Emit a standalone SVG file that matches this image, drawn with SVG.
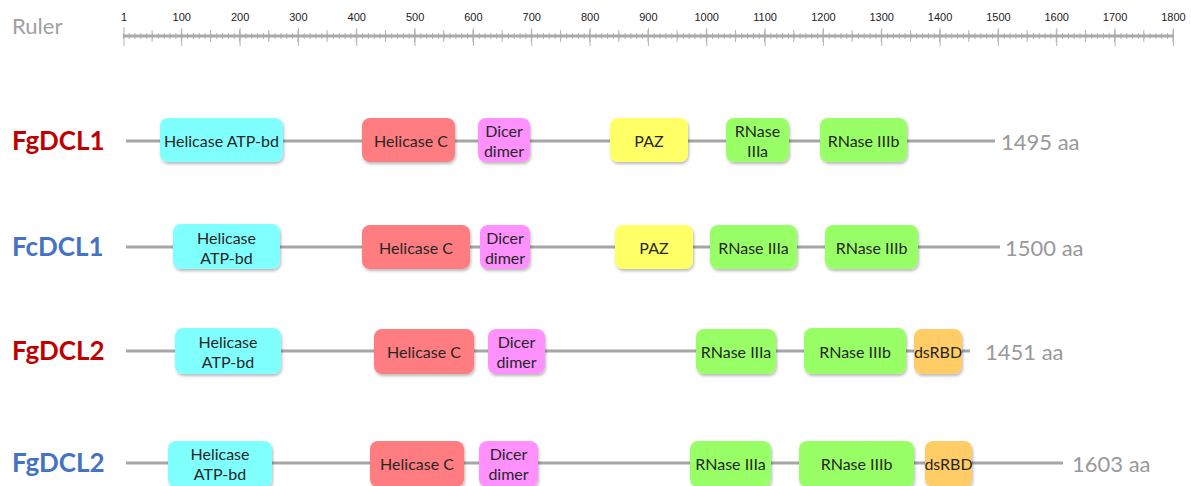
<svg xmlns="http://www.w3.org/2000/svg" width="1191" height="486" viewBox="0 0 1191 486">
<defs>
<filter id="sh" x="-20%" y="-20%" width="140%" height="150%">
<feDropShadow dx="1" dy="2" stdDeviation="1.8" flood-color="#000" flood-opacity="0.28"/>
</filter>
<style>
.bg{fill:#fff}
.box{filter:url(#sh)}
.cy{fill:#80ffff}.rd{fill:#ff7c80}.pk{fill:#ff91ff}.ye{fill:#ffff66}.gr{fill:#99ff66}.or{fill:#ffcc66}
.t{font-family:Lato,"Open Sans",sans-serif;font-size:16px;fill:#262626;text-anchor:middle;dominant-baseline:central}
.lab{font-family:Lato,"Open Sans",sans-serif;font-size:26px;font-weight:bold;dominant-baseline:central}
.red{fill:#c00000}.blue{fill:#4472c4}
.aa{font-family:Lato,"Open Sans",sans-serif;font-size:22px;fill:#999;dominant-baseline:central}
.bb{stroke:#a6a6a6;stroke-width:3;fill:none}
.rl{font-family:"Liberation Sans",Arial,sans-serif;font-size:11px;fill:#222;text-anchor:middle}
.tk{stroke:#b4b4b4;fill:none}
</style>
</defs>
<rect class="bg" width="1191" height="486"/>
<g id="ruler">
<text x="12" y="34" style="font-family:Lato,'Open Sans',sans-serif;font-size:22px;fill:#a0a0a0">Ruler</text>
<line class="tk" x1="122.9" y1="36" x2="1174" y2="36" stroke-width="6" stroke-dasharray="1 4.8333"/>
<line class="tk" x1="151.6" y1="36" x2="1174" y2="36" stroke-width="12" stroke-dasharray="1 28.1667"/>
<line class="tk" x1="181.25" y1="37" x2="1174" y2="37" stroke-width="18" stroke-dasharray="1 57.3333"/>
<line class="tk" x1="124" y1="27" x2="124" y2="46" stroke-width="1"/>
<line x1="123" y1="36" x2="1174" y2="36" stroke="#aaaaaa" stroke-width="3"/>
<text class="rl" x="124" y="21">1</text>
<text class="rl" x="181.7" y="21">100</text>
<text class="rl" x="240.1" y="21">200</text>
<text class="rl" x="298.4" y="21">300</text>
<text class="rl" x="356.7" y="21">400</text>
<text class="rl" x="415.1" y="21">500</text>
<text class="rl" x="473.4" y="21">600</text>
<text class="rl" x="531.7" y="21">700</text>
<text class="rl" x="590.1" y="21">800</text>
<text class="rl" x="648.4" y="21">900</text>
<text class="rl" x="706.7" y="21">1000</text>
<text class="rl" x="765.1" y="21">1100</text>
<text class="rl" x="823.4" y="21">1200</text>
<text class="rl" x="881.7" y="21">1300</text>
<text class="rl" x="940.1" y="21">1400</text>
<text class="rl" x="998.4" y="21">1500</text>
<text class="rl" x="1056.7" y="21">1600</text>
<text class="rl" x="1115.1" y="21">1700</text>
<text class="rl" x="1173.4" y="21">1800</text>
</g>
<g id="connectors">
<line class="bb" x1="126" y1="141" x2="995" y2="141"/>
<line class="bb" x1="126" y1="247" x2="1000" y2="247"/>
<line class="bb" x1="126" y1="351" x2="970" y2="351"/>
<line class="bb" x1="126" y1="463" x2="1063" y2="463"/>
</g>
<g id="row1">
<text class="lab red" x="12" y="140">FgDCL1</text>
<g id="r1-atp"><rect class="box cy" x="160" y="118" width="123" height="44" rx="8"/><text class="t" x="221.5" y="140">Helicase ATP-bd</text></g>
<g id="r1-helc"><rect class="box rd" x="362" y="118" width="93" height="44" rx="8"/><text class="t" x="411" y="140">Helicase C</text></g>
<g id="r1-dicer"><rect class="box pk" x="478" y="118" width="52" height="44" rx="8"/><text class="t" x="504" y="130">Dicer</text><text class="t" x="504" y="150">dimer</text></g>
<g id="r1-paz"><rect class="box ye" x="610" y="118" width="78" height="44" rx="8"/><text class="t" x="649" y="140">PAZ</text></g>
<g id="r1-r3a"><rect class="box gr" x="726" y="118" width="63" height="44" rx="8"/><text class="t" x="757.5" y="130">RNase</text><text class="t" x="757.5" y="150">IIIa</text></g>
<g id="r1-r3b"><rect class="box gr" x="820" y="118" width="87" height="44" rx="8"/><text class="t" x="863.5" y="140">RNase IIIb</text></g>
<text class="aa" x="1001" y="141">1495 aa</text>
</g>
<g id="row2">
<text class="lab blue" x="12" y="246">FcDCL1</text>
<g id="r2-atp"><rect class="box cy" x="173" y="224" width="107" height="45" rx="8"/><text class="t" x="226.5" y="237">Helicase</text><text class="t" x="226.5" y="257">ATP-bd</text></g>
<g id="r2-helc"><rect class="box rd" x="362" y="225" width="108" height="44" rx="8"/><text class="t" x="416" y="247">Helicase C</text></g>
<g id="r2-dicer"><rect class="box pk" x="480" y="225" width="50" height="44" rx="8"/><text class="t" x="505" y="237">Dicer</text><text class="t" x="505" y="257">dimer</text></g>
<g id="r2-paz"><rect class="box ye" x="615" y="225" width="78" height="44" rx="8"/><text class="t" x="654" y="247">PAZ</text></g>
<g id="r2-r3a"><rect class="box gr" x="710" y="225" width="87" height="44" rx="8"/><text class="t" x="753.5" y="247">RNase IIIa</text></g>
<g id="r2-r3b"><rect class="box gr" x="825" y="225" width="93" height="44" rx="8"/><text class="t" x="871.5" y="247">RNase IIIb</text></g>
<text class="aa" x="1005" y="247">1500 aa</text>
</g>
<g id="row3">
<text class="lab red" x="12" y="350">FgDCL2</text>
<g id="r3-atp"><rect class="box cy" x="175" y="328" width="106" height="46" rx="8"/><text class="t" x="228" y="341">Helicase</text><text class="t" x="228" y="361">ATP-bd</text></g>
<g id="r3-helc"><rect class="box rd" x="374" y="329" width="100" height="45" rx="8"/><text class="t" x="424" y="351">Helicase C</text></g>
<g id="r3-dicer"><rect class="box pk" x="488" y="329" width="57" height="45" rx="8"/><text class="t" x="516.5" y="341">Dicer</text><text class="t" x="516.5" y="361">dimer</text></g>
<g id="r3-r3a"><rect class="box gr" x="696" y="329" width="80" height="45" rx="8"/><text class="t" x="736" y="351">RNase IIIa</text></g>
<g id="r3-r3b"><rect class="box gr" x="804" y="328" width="102" height="46" rx="8"/><text class="t" x="855" y="351">RNase IIIb</text></g>
<g id="r3-ds"><rect class="box or" x="914" y="329" width="48" height="45" rx="8"/><text class="t" x="938" y="351">dsRBD</text></g>
<text class="aa" x="985" y="351">1451 aa</text>
</g>
<g id="row4">
<text class="lab blue" x="12" y="462">FgDCL2</text>
<g id="r4-atp"><rect class="box cy" x="168" y="441" width="104" height="46" rx="8"/><text class="t" x="220" y="453">Helicase</text><text class="t" x="220" y="473">ATP-bd</text></g>
<g id="r4-helc"><rect class="box rd" x="370" y="441" width="94" height="46" rx="8"/><text class="t" x="417" y="463">Helicase C</text></g>
<g id="r4-dicer"><rect class="box pk" x="479" y="441" width="59" height="46" rx="8"/><text class="t" x="508.5" y="453">Dicer</text><text class="t" x="508.5" y="473">dimer</text></g>
<g id="r4-r3a"><rect class="box gr" x="690" y="441" width="81" height="46" rx="8"/><text class="t" x="730.5" y="463">RNase IIIa</text></g>
<g id="r4-r3b"><rect class="box gr" x="799" y="441" width="115" height="46" rx="8"/><text class="t" x="856.5" y="463">RNase IIIb</text></g>
<g id="r4-ds"><rect class="box or" x="925" y="441" width="47" height="46" rx="8"/><text class="t" x="948.5" y="463">dsRBD</text></g>
<text class="aa" x="1072" y="463">1603 aa</text>
</g>
</svg>
